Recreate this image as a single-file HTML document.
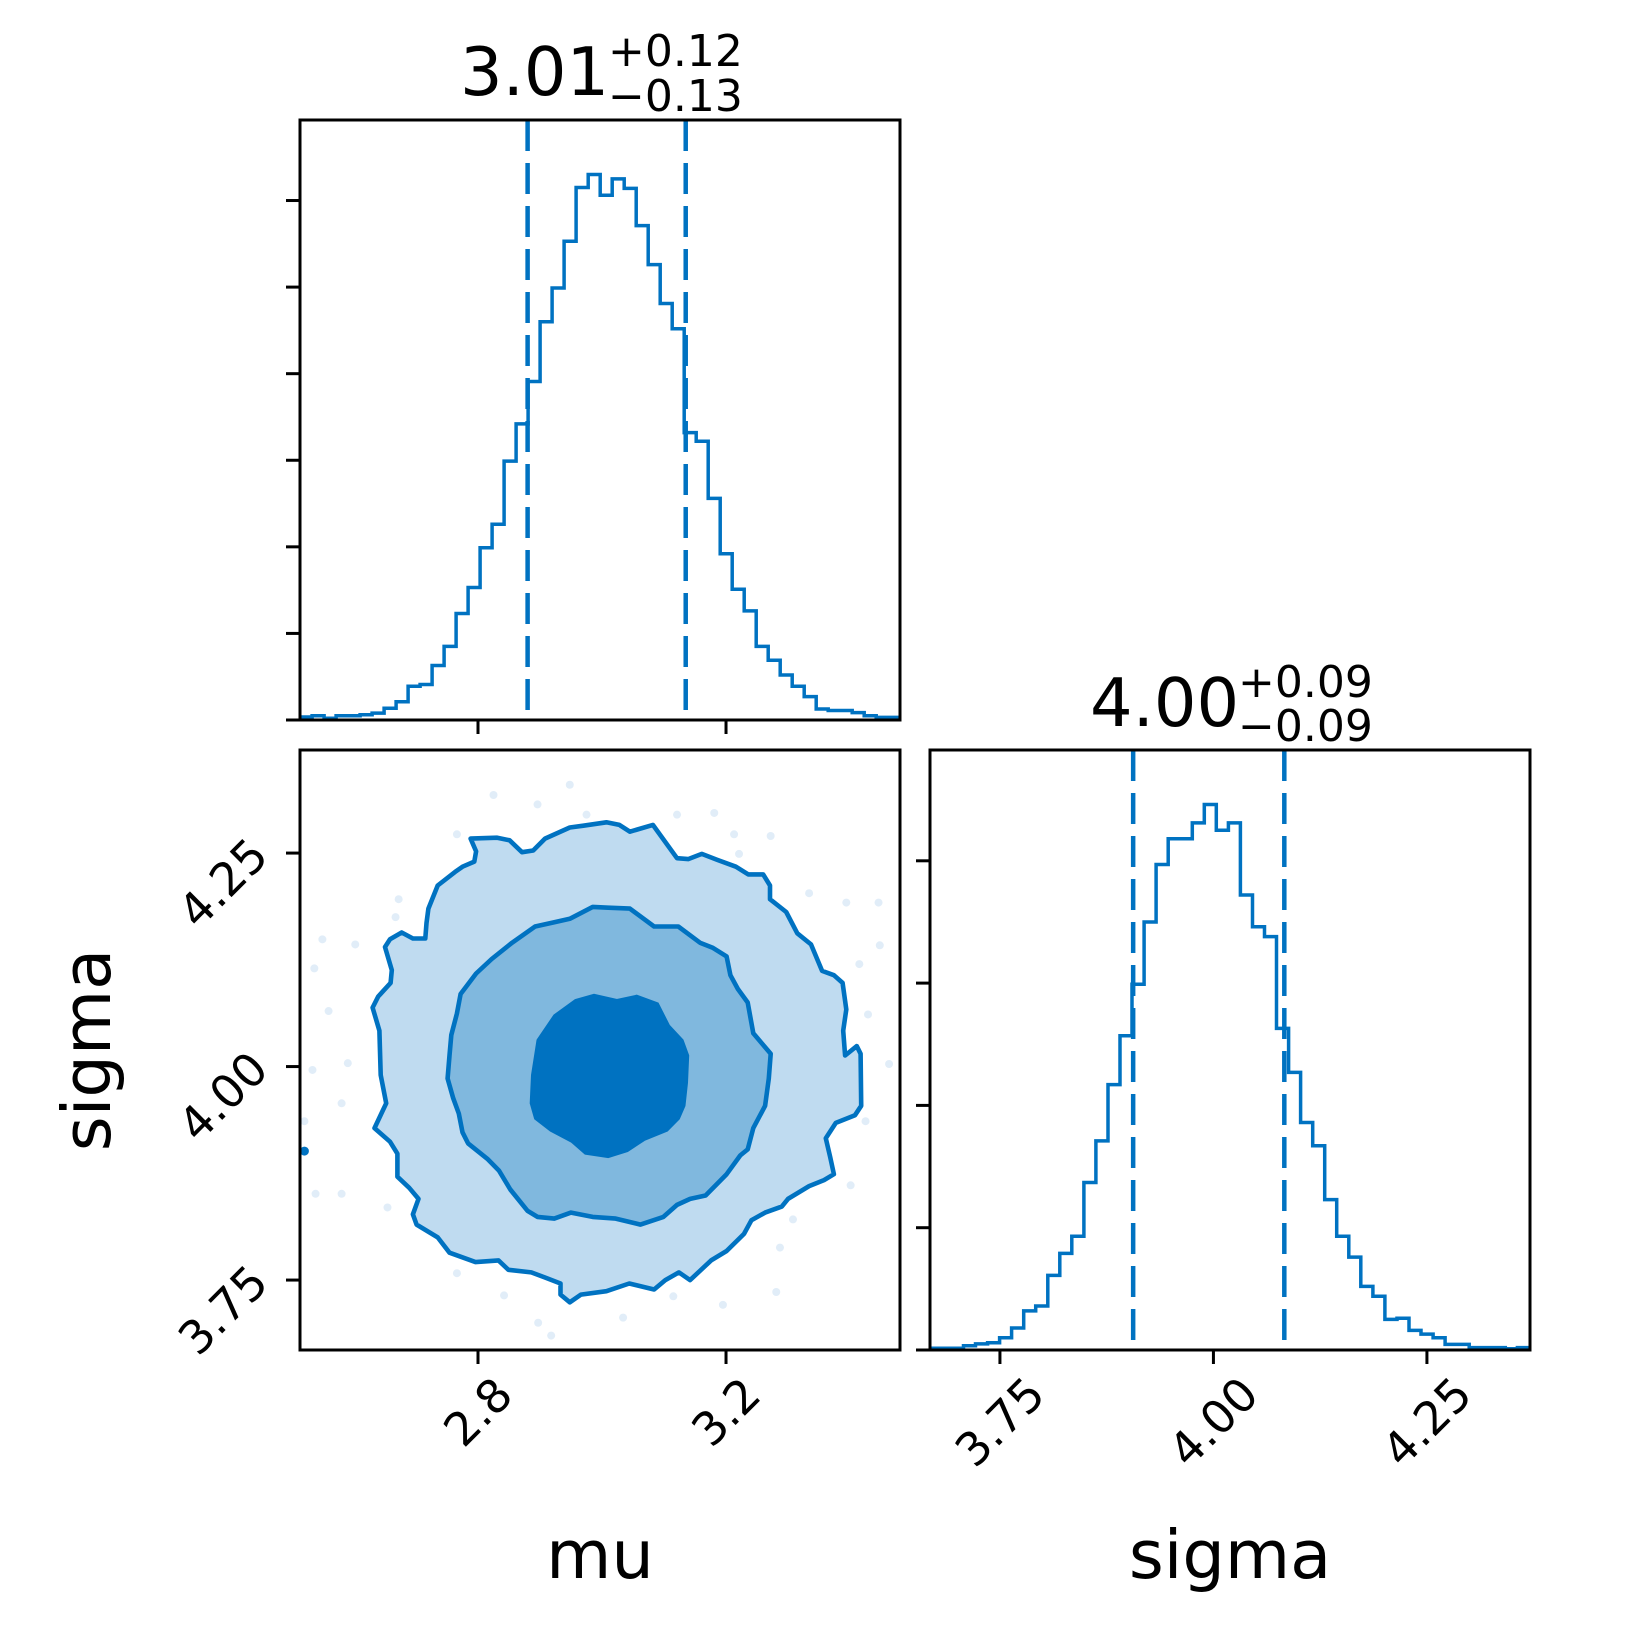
<!DOCTYPE html>
<html><head><meta charset="utf-8"><style>
html,body{margin:0;padding:0;background:#fff;}
svg{display:block;font-family:"DejaVu Sans","Liberation Sans",sans-serif;}
</style></head><body>
<svg id="fig" xmlns="http://www.w3.org/2000/svg" width="1650" height="1650" viewBox="0 0 1650 1650">
<rect width="1650" height="1650" fill="#fff"/>
<g id="g-scatter"></g>
<g id="g-contours"></g>
<g id="g-hists"></g>
<g id="g-axes"></g>
<g id="g-text">
<text x="460" y="95" font-size="67">3.01</text>
<text x="608" y="66" font-size="44">+0.12</text>
<text x="608" y="111" font-size="44">−0.13</text>
<text x="1090" y="726" font-size="67">4.00</text>
<text x="1238" y="697" font-size="44">+0.09</text>
<text x="1238" y="741" font-size="44">−0.09</text>
<text x="600" y="1578" font-size="67" text-anchor="middle">mu</text>
<text x="1230" y="1578" font-size="67" text-anchor="middle">sigma</text>
<text x="0" y="0" font-size="67" text-anchor="middle" transform="translate(110,1050) rotate(-90)">sigma</text>
</g>
</svg>
<script>
// ---- data ----
const muBinRange = [2.513, 3.481];
const sigmaBinRange = [3.665, 4.370];
const muCounts = [3.5,5,2,5,5,6,8,13.5,21,39,41,63,85,123,153,199,226,299,342,391,460,499,553,615,630,606,625,614,571,526,481,452,332,322,256,192,151,126,85,69,52,39,27,12.7,11,11,8.5,5,3,3];
const sigmaCounts = [1.5,1.5,1.5,3.5,5,6,10,18,32,36,61,79,93,137,171,217,257,299,350,397,418,418,431,446,425,431,372,346,338,263,227,186,167,123,93,76,52,44,25,26,16,13,10,4.6,4.6,2,2,2,1,2];
const muQuantiles = [2.88, 3.135];
const sigmaQuantiles = [3.906, 4.083];
const muTicks = [2.8, 3.2];
const muTickLabels = ["2.8", "3.2"];
const sigmaTicks = [3.75, 4.00, 4.25];
const sigmaTickLabels = ["3.75", "4.00", "4.25"];
const muHistYTicks = [100,200,300,400,500,600];
const sigmaHistYTicks = [100,200,300,400];
const outerMu = [2.788,2.831,2.851,2.871,2.889,2.908,2.948,2.970,3.007,3.028,3.045,3.082,3.121,3.139,3.161,3.186,3.216,3.236,3.260,3.271,3.271,3.297,3.315,3.337,3.355,3.374,3.388,3.394,3.389,3.392,3.411,3.417,3.418,3.408,3.377,3.361,3.368,3.374,3.358,3.334,3.300,3.290,3.263,3.241,3.229,3.201,3.176,3.142,3.124,3.102,3.084,3.044,3.007,2.966,2.948,2.933,2.933,2.908,2.886,2.849,2.833,2.796,2.754,2.735,2.701,2.695,2.704,2.689,2.670,2.670,2.658,2.633,2.652,2.643,2.641,2.630,2.639,2.659,2.661,2.650,2.658,2.677,2.695,2.715,2.717,2.720,2.735,2.763,2.775,2.794,2.797];
const outerSigma = [4.267,4.268,4.265,4.251,4.253,4.267,4.280,4.282,4.286,4.283,4.275,4.283,4.244,4.243,4.249,4.242,4.234,4.225,4.225,4.212,4.196,4.181,4.156,4.143,4.112,4.107,4.098,4.067,4.042,4.013,4.024,4.015,3.954,3.943,3.934,3.916,3.894,3.874,3.867,3.860,3.845,3.836,3.829,3.820,3.804,3.784,3.773,3.750,3.759,3.750,3.739,3.746,3.737,3.733,3.724,3.733,3.746,3.753,3.759,3.762,3.773,3.771,3.782,3.800,3.815,3.827,3.845,3.858,3.871,3.898,3.912,3.928,3.957,3.990,4.042,4.069,4.082,4.098,4.113,4.140,4.149,4.157,4.150,4.150,4.168,4.185,4.212,4.228,4.234,4.240,4.252];
const middleMu = [2.772,2.797,2.822,2.855,2.892,2.923,2.948,2.985,3.010,3.045,3.084,3.123,3.158,3.179,3.201,3.207,3.219,3.235,3.244,3.272,3.269,3.263,3.244,3.235,3.223,3.201,3.167,3.142,3.121,3.099,3.062,3.022,2.985,2.950,2.923,2.896,2.880,2.852,2.834,2.815,2.784,2.775,2.769,2.760,2.751,2.754,2.757,2.766];
const middleSigma = [4.085,4.109,4.126,4.145,4.164,4.169,4.173,4.187,4.186,4.185,4.164,4.164,4.145,4.139,4.129,4.107,4.091,4.075,4.039,4.015,3.986,3.954,3.928,3.903,3.896,3.874,3.849,3.845,3.838,3.824,3.815,3.822,3.824,3.829,3.822,3.824,3.831,3.856,3.878,3.892,3.910,3.923,3.945,3.963,3.986,4.013,4.037,4.062];
const innerMu = [2.896,2.923,2.957,2.987,3.024,3.056,3.090,3.108,3.130,3.139,3.137,3.133,3.124,3.105,3.068,3.041,3.010,2.973,2.951,2.917,2.892,2.885,2.887];
const innerSigma = [4.031,4.060,4.078,4.084,4.078,4.083,4.074,4.048,4.031,4.013,3.981,3.954,3.939,3.925,3.914,3.901,3.894,3.898,3.912,3.925,3.939,3.957,3.990];
const scatterMu = [2.948,2.825,2.896,2.975,3.121,3.181,3.213,3.272,3.221,3.334,3.394,3.446,3.448,3.415,3.429,3.463,3.425,3.401,3.308,3.287,3.281,3.195,3.115,3.034,2.918,2.897,2.842,2.766,2.654,2.580,2.538,2.520,2.580,2.533,2.590,2.559,2.536,2.549,2.602,2.667,2.672,2.766];
const scatterSigma = [4.330,4.318,4.307,4.295,4.295,4.297,4.272,4.270,4.249,4.203,4.192,4.192,4.142,4.120,4.061,4.003,3.936,3.861,3.821,3.788,3.736,3.721,3.731,3.706,3.685,3.700,3.732,3.758,3.835,3.851,3.851,3.936,3.957,3.996,4.004,4.065,4.115,4.149,4.143,4.175,4.196,4.272];
const outlierMu = [2.520];
const outlierSigma = [3.901];

// ---- layout ----
const NS = "http://www.w3.org/2000/svg";
const C = "#0072c1";
const P = {
  mu: {x0:300, x1:900, y0:120, y1:720},
  joint: {x0:300, x1:900, y0:750, y1:1350},
  sig: {x0:930, x1:1530, y0:750, y1:1350}
};
const muLim = [2.5129, 3.4806];
const sigLim = [3.6681, 4.3707];
function xMu(v){ return P.joint.x0 + (v - muLim[0]) / (muLim[1]-muLim[0]) * 600; }
function xSig(v){ return P.sig.x0 + (v - sigLim[0]) / (sigLim[1]-sigLim[0]) * 600; }
function ySig(v){ return P.joint.y1 - (v - sigLim[0]) / (sigLim[1]-sigLim[0]) * 600; }
function yMuHist(c){ const m = Math.max(...muCounts)*1.1; return P.mu.y1 - c/m*600; }
function ySigHist(c){ const m = Math.max(...sigmaCounts)*1.1; return P.sig.y1 - c/m*600; }
function mk(tag, attrs, parent){
  const e = document.createElementNS(NS, tag);
  for (const k in attrs) e.setAttribute(k, attrs[k]);
  parent.appendChild(e); return e;
}
const gS = document.getElementById('g-scatter');
const gC = document.getElementById('g-contours');
const gH = document.getElementById('g-hists');
const gA = document.getElementById('g-axes');

// clip for joint panel
const defs = mk('defs', {}, document.getElementById('fig'));
const cp = mk('clipPath', {id:'clipJ'}, defs);
mk('rect', {x:300, y:750, width:600, height:600}, cp);
const cp2 = mk('clipPath', {id:'clipM'}, defs);
mk('rect', {x:300, y:120, width:600, height:600}, cp2);
const cp3 = mk('clipPath', {id:'clipS'}, defs);
mk('rect', {x:930, y:750, width:600, height:600}, cp3);
gS.setAttribute('clip-path', 'url(#clipJ)');
gC.setAttribute('clip-path', 'url(#clipJ)');

// scatter
for (let i=0;i<scatterMu.length;i++){
  const c = mk('circle', {cx:xMu(scatterMu[i]), cy:ySig(scatterSigma[i]), r:4, fill:'#e1edf8'}, gS);
  
  
}
for (let i=0;i<outlierMu.length;i++){
  const c = mk('circle', {cx:xMu(outlierMu[i]), cy:ySig(outlierSigma[i]), r:4.5, fill:C}, gS);
  
  
}

// contours
function poly(ms, ss){ return ms.map((m,i)=> (i?'L':'M') + xMu(m).toFixed(1) + ' ' + ySig(ss[i]).toFixed(1)).join(' ') + ' Z'; }
const outerFill = mk('path', {d:poly(outerMu, outerSigma), fill:'#bfdbf0', stroke:C, 'stroke-width':4.6, 'stroke-linejoin':'round'}, gC);


const midFill = mk('path', {d:poly(middleMu, middleSigma), fill:'#80b8de', stroke:C, 'stroke-width':4.6, 'stroke-linejoin':'round'}, gC);


const inFill = mk('path', {d:poly(innerMu, innerSigma), fill:C, stroke:C, 'stroke-width':2}, gC);



// histograms
function histPath(counts, range, xf, yf, base){
  const n = counts.length, w = (range[1]-range[0])/n;
  let d = 'M' + xf(range[0]).toFixed(1) + ' ' + base;
  for (let i=0;i<n;i++){
    const y = yf(counts[i]).toFixed(1);
    d += ' L' + xf(range[0]+i*w).toFixed(1) + ' ' + y + ' L' + xf(range[0]+(i+1)*w).toFixed(1) + ' ' + y;
  }
  return d;
}
const hm = mk('path', {d:histPath(muCounts, muBinRange, xMu, yMuHist, 720), fill:'none', stroke:C, 'stroke-width':3.5, 'clip-path':'url(#clipM)'}, gH);


const hs = mk('path', {d:histPath(sigmaCounts, sigmaBinRange, xSig, ySigHist, 1350), fill:'none', stroke:C, 'stroke-width':3.5, 'clip-path':'url(#clipS)'}, gH);


muQuantiles.forEach(q=>{
  const l = mk('line', {x1:xMu(q), x2:xMu(q), y1:120, y2:720, stroke:C, 'stroke-width':4.5, 'stroke-dasharray':'31 12'}, gH);
  
  
});
sigmaQuantiles.forEach(q=>{
  const l = mk('line', {x1:xSig(q), x2:xSig(q), y1:750, y2:1350, stroke:C, 'stroke-width':4.5, 'stroke-dasharray':'31 12'}, gH);
  
  
});

// axes frames
[['mu-hist-frame',P.mu],['joint-frame',P.joint],['sigma-hist-frame',P.sig]].forEach(([n,p])=>{
  const r = mk('rect', {x:p.x0, y:p.y0, width:p.x1-p.x0, height:p.y1-p.y0, fill:'none', stroke:'#000', 'stroke-width':3}, gA);
  
  
});
function tick(x1,y1,x2,y2,name){
  const t = mk('line', {x1:x1,y1:y1,x2:x2,y2:y2, stroke:'#000', 'stroke-width':3}, gA);
  
  
}
// x ticks
muTicks.forEach((v,i)=>{
  const x = xMu(v);
  tick(x,720,x,734,'mu-hist-x-tick');
  tick(x,1350,x,1364,'mu-x-tick');
  const t = mk('text', {x:0, y:0, 'font-size':46, 'text-anchor':'middle', 'dominant-baseline':'central', transform:'translate('+x+','+(1350+62)+') rotate(-45)'}, gA);
  t.textContent = muTickLabels[i];
  
  
});
sigmaTicks.forEach((v,i)=>{
  const x = xSig(v);
  tick(x,1350,x,1364,'sigma-x-tick');
  const t = mk('text', {x:0, y:0, 'font-size':46, 'text-anchor':'middle', 'dominant-baseline':'central', transform:'translate('+x+','+(1350+72)+') rotate(-45)'}, gA);
  t.textContent = sigmaTickLabels[i];
  
  
  const y = ySig(v);
  tick(286,y,300,y,'sigma-y-tick');
  const ty = mk('text', {x:0, y:0, 'font-size':46, 'text-anchor':'middle', 'dominant-baseline':'central', transform:'translate(223,'+(y+30)+') rotate(-45)'}, gA);
  ty.textContent = sigmaTickLabels[i];
  
  
});
muHistYTicks.forEach(v=>{ const y = yMuHist(v); tick(286,y,300,y,'mu-hist-y-tick'); });
tick(286,720,300,720,'mu-hist-y-tick');
sigmaHistYTicks.forEach(v=>{ const y = ySigHist(v); tick(916,y,930,y,'sigma-hist-y-tick'); });
tick(916,1350,930,1350,'sigma-hist-y-tick');
</script>
</body></html>
